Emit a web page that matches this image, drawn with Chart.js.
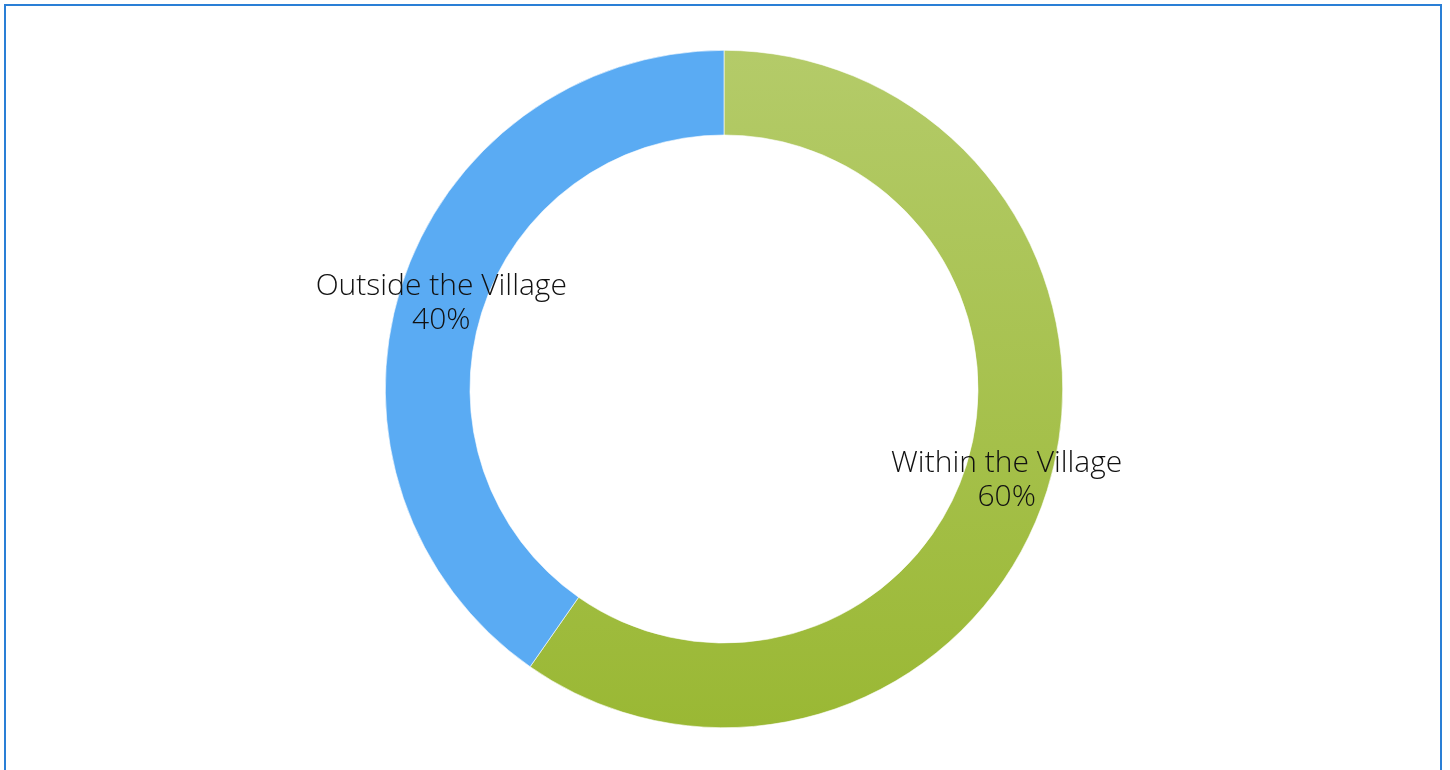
<!DOCTYPE html>
<html>
<head>
<meta charset="utf-8">
<script src="https://cdn.jsdelivr.net/npm/chart.js@4"></script>
<style>
    html, body { margin: 0; padding: 0; background: #fff; overflow: hidden; }
    #frame {
        position: absolute; left: 4px; top: 4px; width: 1438px; height: 800px;
        border: 2px solid #2a7fd6; box-sizing: border-box;
    }
    #wrap { position: absolute; left: 0; top: 0; width: 1450px; height: 770px; }
</style>
</head>
<body>
<div id="frame"></div>
<div id="wrap"><canvas id="chart"></canvas></div>
<script>
const categories = ['Within the Village', 'Outside the Village'];
const shares = [59.7, 40.3];
const percentLabels = ['60%', '40%'];

// labels drawn in the middle of each ring segment, two lines
const ringLabels = {
    id: 'ringLabels',
    afterDatasetsDraw(chart) {
        const ctx = chart.ctx;
        const meta = chart.getDatasetMeta(0);
        ctx.save();
        ctx.fillStyle = '#111';
        ctx.font = '300 30px "Open Sans"';
        ctx.textAlign = 'center';
        ctx.textBaseline = 'middle';
        meta.data.forEach((arc, i) => {
            const p = arc.tooltipPosition();
            ctx.fillText(categories[i], p.x, p.y - 14);
            ctx.fillText(percentLabels[i], p.x, p.y + 20);
        });
        ctx.restore();
    }
};

const ctx = document.getElementById('chart').getContext('2d');
new Chart(ctx, {
    type: 'doughnut',
    data: {
        labels: categories,
        datasets: [{
            data: shares,
            backgroundColor: function (c) {
                if (c.dataIndex === 1) return '#5aabf3';
                const area = c.chart.chartArea;
                if (!area) return '#a8c250';
                const g = c.chart.ctx.createLinearGradient(0, area.top, 0, area.bottom);
                g.addColorStop(0, '#b4cb69');
                g.addColorStop(1, '#9ab834');
                return g;
            },
            borderColor: '#ffffff',
            borderWidth: 0.6
        }]
    },
    options: {
        responsive: true,
        maintainAspectRatio: false,
        animation: false,
        cutout: '75%',
        layout: {
            padding: { top: 50, bottom: 42, left: 385, right: 387 }
        },
        plugins: {
            legend: { display: false },
            tooltip: { enabled: false }
        }
    },
    plugins: [ringLabels]
});
</script>
</body>
</html>
